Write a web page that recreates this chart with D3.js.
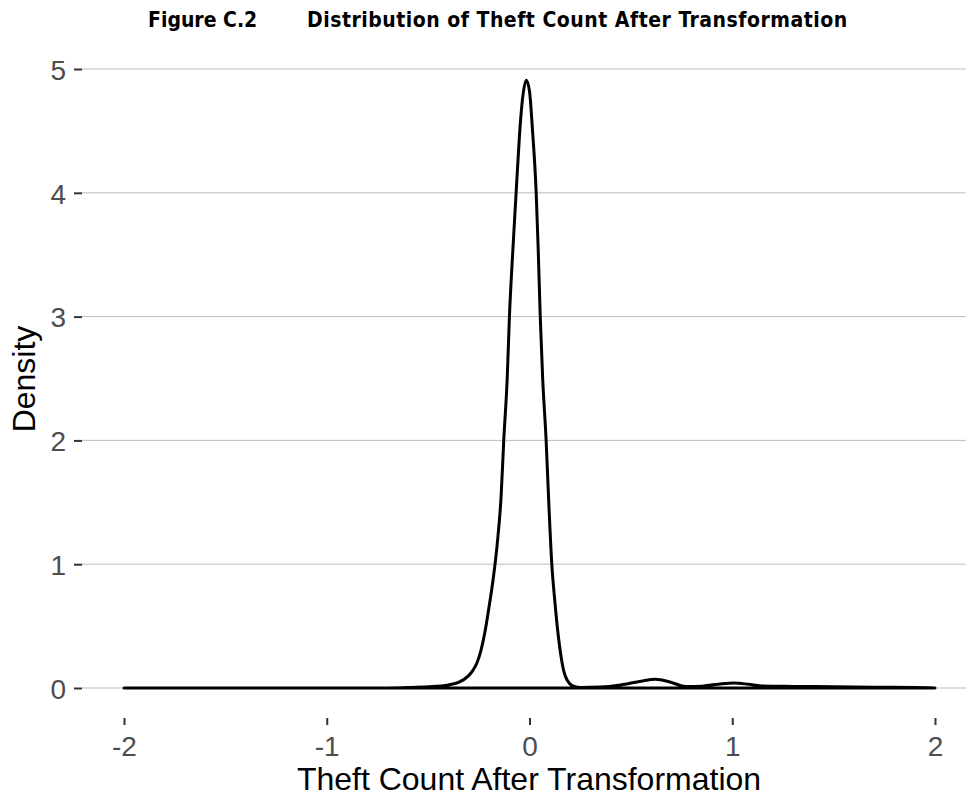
<!DOCTYPE html>
<html>
<head>
<meta charset="utf-8">
<script src="https://cdn.jsdelivr.net/npm/d3@7"></script>
<style>
  body { margin: 0; background: #fff; }
  svg { display: block; }
</style>
</head>
<body>
<div id="chart"></div>
<script>
// Density estimate
const densityX = [-2.0, -1.0, -0.7, -0.6, -0.5, -0.4, -0.35, -0.3, -0.28, -0.26, -0.24, -0.22, -0.2, -0.18,
  -0.16, -0.14, -0.127, -0.11, -0.099, -0.082, -0.066, -0.05, -0.035, -0.016, 0.0, 0.015, 0.033, 0.043,
  0.053, 0.065, 0.082, 0.095, 0.11, 0.125, 0.14, 0.156, 0.17, 0.187, 0.21, 0.25, 0.35, 0.45, 0.55, 0.62,
  0.7, 0.77, 0.85, 0.95, 1.01, 1.08, 1.15, 1.3, 1.5, 1.7, 1.9, 2.0];
const densityY = [0, 0, 0.001, 0.004, 0.01, 0.025, 0.045, 0.1, 0.14, 0.2, 0.3, 0.45, 0.65, 0.87,
  1.15, 1.55, 2.0, 2.5, 3.0, 3.54, 4.0, 4.45, 4.75, 4.91, 4.82, 4.5, 4.0, 3.54,
  3.0, 2.5, 2.0, 1.5, 1.0, 0.7, 0.45, 0.25, 0.13, 0.06, 0.02, 0.005, 0.008, 0.025, 0.055, 0.07,
  0.045, 0.012, 0.015, 0.035, 0.04, 0.03, 0.016, 0.013, 0.01, 0.007, 0.004, 0];
const xTicks = [-2, -1, 0, 1, 2];
const yTicks = [0, 1, 2, 3, 4, 5];

const width = 966, height = 797;
const panel = { left: 82, right: 966, top: 40, bottom: 710 };
const font = "'Liberation Sans', Arial, sans-serif";

const svg = d3.select("#chart").append("svg")
  .attr("width", width)
  .attr("height", height);

// scales: -2 -> 124px, 2 -> 935px ; 0 -> 688px, 5 -> 69px
const x = d3.scaleLinear().domain([-2, 2]).range([124, 935]);
const y = d3.scaleLinear().domain([0, 5]).range([688, 69]);

// title
const title = svg.append("text")
  .attr("y", 27)
  .style("font-family", "'DejaVu Sans Condensed', 'Liberation Sans Narrow', sans-serif")
  .style("font-weight", "bold")
  .style("font-size", "21px")
  .attr("fill", "#000");
title.append("tspan").attr("x", 148).text("Figure C.2");
title.append("tspan").attr("x", 307).style("letter-spacing", "0.5px")
  .text("Distribution of Theft Count After Transformation");

// gridlines
svg.append("g")
  .selectAll("line")
  .data(yTicks)
  .join("line")
  .attr("x1", panel.left)
  .attr("x2", panel.right)
  .attr("y1", d => y(d))
  .attr("y2", d => y(d))
  .attr("stroke", "#bdbdbd")
  .attr("stroke-width", 1);

// y axis
const yAxis = svg.append("g")
  .attr("transform", `translate(${panel.left},0)`)
  .call(d3.axisLeft(y).tickValues(yTicks).tickSize(8).tickPadding(8).tickFormat(d3.format("d")));
yAxis.select(".domain").remove();
yAxis.selectAll(".tick line").attr("stroke", "#333").attr("stroke-width", 2);
yAxis.selectAll(".tick text")
  .attr("fill", "#4d4d4d")
  .style("font-family", font)
  .style("font-size", "28px")
  .attr("dy", "0.37em");

// x axis
const xAxis = svg.append("g")
  .attr("transform", `translate(0,${panel.bottom})`)
  .call(d3.axisBottom(x).tickValues(xTicks).tickSize(8).tickPadding(4).tickFormat(d3.format("d")));
xAxis.select(".domain").remove();
xAxis.selectAll(".tick line").attr("stroke", "#333").attr("stroke-width", 2).attr("y1", 8).attr("y2", 15);
xAxis.selectAll(".tick text")
  .attr("fill", "#4d4d4d")
  .attr("y", 46)
  .attr("dy", "0")
  .style("font-family", font)
  .style("font-size", "28px")
  .text(d => d < 0 ? "-" + Math.abs(d) : d);

// density outline (closed polygon like geom_density)
const pts = densityX.map((d, i) => [d, densityY[i]]);
const line = d3.line()
  .x(d => x(d[0]))
  .y(d => y(d[1]))
  .curve(d3.curveMonotoneX);
svg.append("path")
  .attr("d", line(pts) + "Z")
  .attr("fill", "none")
  .attr("stroke", "#000")
  .attr("stroke-width", 3)
  .attr("stroke-linejoin", "round");

// axis titles
svg.append("text")
  .attr("x", 529)
  .attr("y", 790)
  .attr("text-anchor", "middle")
  .style("font-family", font)
  .style("font-size", "32px")
  .text("Theft Count After Transformation");

svg.append("text")
  .attr("transform", "translate(35,379) rotate(-90)")
  .attr("text-anchor", "middle")
  .style("font-family", font)
  .style("font-size", "32px")
  .text("Density");
</script>
</body>
</html>
